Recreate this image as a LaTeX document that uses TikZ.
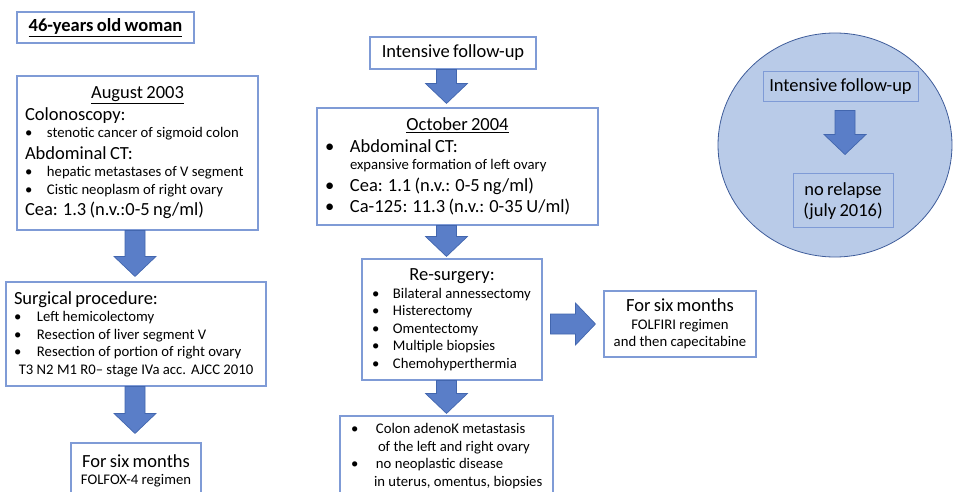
\documentclass[tikz,border=0pt]{standalone}
\usepackage{fontspec}
\setmainfont{Carlito}
\usetikzlibrary{calc,shapes.geometric}
\definecolor{boxline}{HTML}{7F9BD6}
\definecolor{arrowfill}{HTML}{5A7EC8}
\definecolor{arrowline}{HTML}{4266AE}
\definecolor{ringfill}{HTML}{B9CBE8}
\definecolor{ringline}{HTML}{3E5C9A}
\setlength{\parindent}{0pt}
\newcommand{\bigt}{\fontsize{18.5}{21.5}\selectfont}
\newcommand{\smallt}{\fontsize{14.7}{17.5}\selectfont}
\newcommand{\bul}[1][22pt]{\makebox[#1][l]{\textbullet}}
\newcommand{\fat}[2]{%
  \coordinate (fs) at (#1);
  \coordinate (ft) at (#2);
  \coordinate (fh) at ($(ft)!20pt!(fs)$);
  \filldraw[fatarrow] ($(fs)!10pt!90:(ft)$) -- ($(fh)!10pt!90:(ft)$) -- ($(fh)!21pt!90:(ft)$) -- (ft)
    -- ($(fh)!21pt!-90:(ft)$) -- ($(fh)!10pt!-90:(ft)$) -- ($(fs)!10pt!-90:(ft)$) -- cycle;}
\begin{document}
\begin{tikzpicture}[x=1pt,y=-1pt,
    box/.style={draw=boxline,line width=1.1pt,fill=white,inner xsep=8pt,inner ysep=0pt},
    ringbox/.style={draw=boxline,line width=1pt,inner xsep=6pt,inner ysep=0pt},
    fatarrow/.style={fill=arrowfill,draw=arrowline,line width=0.7pt}]
  \useasboundingbox (0,0) rectangle (954,492);
  \coordinate (leftcol) at (135,0);
  \coordinate (midcol) at (446.5,0);
  \coordinate (ringcol) at (845,0);

  \node[box,text width=161pt,minimum height=31pt] (woman) at (105.5,27.5)
    {\centering\bigt\bfseries\underline{46-years old woman}\par};
  \node[box,text width=225pt,minimum height=154pt] (aug) at (137.5,153)
    {{\centering\bigt\underline{August 2003}\par}
     \raggedright\bigt Colonoscopy:\par
     {\smallt\bul stenotic cancer of sigmoid colon\par}
     Abdominal CT:\par
     {\smallt\bul hepatic metastases of V segment\par
      \bul Cistic neoplasm of right ovary\par}
     Cea: 1.3 (n.v.:0-5 ng/ml)\par};
  \node[box,text width=244pt,minimum height=104pt] (surg) at (136,334)
    {\raggedright\bigt Surgical procedure:\par
     {\smallt\bul[23pt]Left hemicolectomy\par
      \bul[23pt]Resection of liver segment V\par
      \bul[23pt]Resection of portion of right ovary\par
      {\centering T3 N2 M1 R0– stage IVa acc. AJCC 2010\par}}};
  \node[box,text width=114pt,minimum height=56pt] (folfox) at (136,471)
    {\centering\bigt For six months\par
     {\smallt FOLFOX-4 regimen\par}};

  \node[box,text width=150pt,minimum height=32pt] (follow) at (453,53)
    {\centering\bigt Intensive follow-up\par};
  \node[box,text width=265pt,minimum height=117pt] (oct) at (457.5,166.5)
    {{\centering\bigt\underline{October 2004}\par}
     \raggedright\bigt\bul[25pt]Abdominal CT:\par
     {\smallt\hspace*{25pt}expansive formation of left ovary\par}
     \bul[25pt]Cea: 1.1 (n.v.: 0-5 ng/ml)\par
     \bul[25pt]Ca-125: 11.3 (n.v.: 0-35 U/ml)\par};
  \node[box,text width=164pt,minimum height=121pt] (resurg) at (452,319.5)
    {{\centering\bigt Re-surgery:\par}
     \raggedright\smallt
     \hspace*{2pt}\bul[21pt]Bilateral annessectomy\par
     \hspace*{2pt}\bul[21pt]Histerectomy\par
     \hspace*{2pt}\bul[21pt]Omentectomy\par
     \hspace*{2pt}\bul[21pt]Multiple biopsies\par
     \hspace*{2pt}\bul[21pt]Chemohyperthermia\par};
  \node[box,text width=197pt,minimum height=80pt] (dis) at (446.5,456)
    {\raggedright\smallt
     \hspace*{3pt}\bul[25pt]Colon adenoK metastasis\par
     \hspace*{30pt}of the left and right ovary\par
     \hspace*{3pt}\bul[25pt]no neoplastic disease\par
     \hspace*{26pt}in uterus, omentus, biopsies\par};
  \node[box,text width=136pt,minimum height=66pt] (folfiri) at (680,324)
    {\centering\bigt For six months\par
     {\smallt FOLFIRI regimen\par and then capecitabine\par}};

  \node[ellipse,draw=ringline,fill=ringfill,line width=0.8pt,inner sep=0pt,
    minimum width=234pt,minimum height=224pt] (ring) at (835,145) {};
  \node[ringbox,text width=143pt,minimum height=30pt] (follow2) at (840.5,87)
    {\centering\bigt Intensive follow-up\par};
  \node[ringbox,text width=88pt,minimum height=54pt] (relapse) at (843,201)
    {\centering\bigt no relapse\par (july 2016)\par};

  \fat{aug.south -| leftcol}{$(surg.north -| leftcol)+(0,-5)$}
  \fat{surg.south -| leftcol}{$(folfox.north -| leftcol)+(0,-9)$}
  \fat{follow.south -| midcol}{$(oct.north -| midcol)+(0,-4)$}
  \fat{oct.south -| midcol}{$(resurg.north -| midcol)+(0,-2)$}
  \fat{resurg.south -| midcol}{$(dis.north -| midcol)+(0,-2)$}
  \fat{$(resurg.east |- folfiri)+(8,0)$}{$(folfiri.west)+(-8,0)$}
  \fat{$(follow2.south -| ringcol)+(0,8)$}{$(relapse.north -| ringcol)+(0,-19)$}
\end{tikzpicture}
\end{document}
